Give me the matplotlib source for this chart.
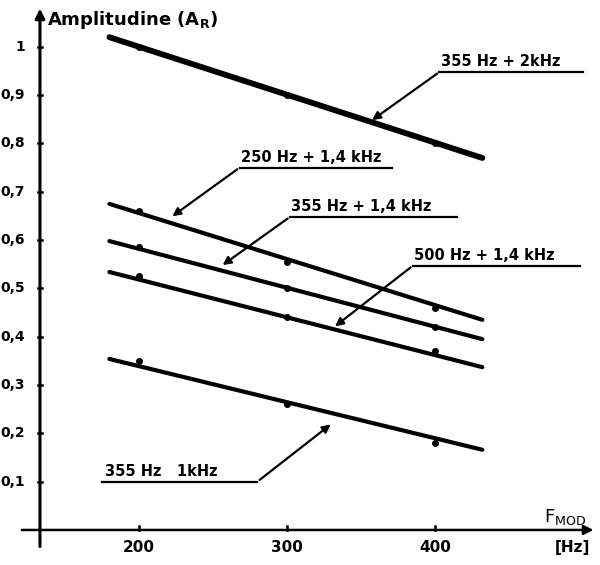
import numpy as np
import matplotlib.pyplot as plt

# Dati
freq_pts = [200, 300, 400]
ends_x = [180, 432]

labels = ['355 Hz + 2kHz', '250 Hz + 1,4 kHz', '355 Hz + 1,4 kHz',
          '500 Hz + 1,4 kHz', '355 Hz   1kHz']
amp_2k = [1.00, 0.90, 0.80]
amp_250 = [0.66, 0.555, 0.46]
amp_355 = [0.585, 0.50, 0.42]
amp_500 = [0.525, 0.44, 0.37]
amp_1k = [0.35, 0.26, 0.18]

ends_2k = [1.02, 0.77]
ends_250 = [0.675, 0.435]
ends_355 = [0.598, 0.395]
ends_500 = [0.534, 0.337]
ends_1k = [0.354, 0.166]

y_ticks = [0.1, 0.2, 0.3, 0.4, 0.5, 0.6, 0.7, 0.8, 0.9, 1]
y_ticklabels = ['0,1', '0,2', '0,3', '0,4', '0,5', '0,6', '0,7', '0,8', '0,9', '1']
x_ticks = [200, 300, 400]

fig = plt.figure(figsize=(6, 5.65), dpi=100)
ax = fig.add_axes([0, 0, 1, 1])
ax.set_xlim(106.1, 511.5)
ax.set_ylim(-0.0725, 1.097)
ax.axis('off')

x0 = 133.1  # posizione asse y

# assi con frecce
ax.annotate('', xy=(x0, 1.085), xytext=(x0, -0.04),
            arrowprops=dict(arrowstyle='-|>', lw=2.2, color='black', mutation_scale=14))
ax.annotate('', xy=(509, 0), xytext=(119, 0),
            arrowprops=dict(arrowstyle='-|>', lw=1.8, color='black', mutation_scale=14))

for y, lab in zip(y_ticks, y_ticklabels):
    ax.plot([x0 - 1.5, x0 + 1.5], [y, y], color='black', lw=1.8)
    ax.text(x0 - 10, y, lab, ha='right', va='center', fontsize=10, fontweight='bold')
for x in x_ticks:
    ax.plot([x, x], [0, 0.008], color='black', lw=1.8)
    ax.text(x, -0.037, str(x), ha='center', va='center', fontsize=11, fontweight='bold')

ax.text(x0 + 5, 1.055, r'Amplitudine (A$_\mathbf{R}$)', ha='left', va='center',
        fontsize=13, fontweight='bold')
ax.text(474, 0.027, r'F$_{\mathrm{MOD}}$', ha='left', va='center', fontsize=13)
ax.text(481, -0.037, '[Hz]', ha='left', va='center', fontsize=11, fontweight='bold')

series = [(amp_2k, ends_2k, 4.2), (amp_250, ends_250, 3.0), (amp_355, ends_355, 3.0),
          (amp_500, ends_500, 3.0), (amp_1k, ends_1k, 3.0)]
for pts, ends, lw in series:
    ax.plot(ends_x, ends, color='black', lw=lw, solid_capstyle='round')
    ax.plot(freq_pts, pts, 'o', color='black', ms=4)

# etichette con frecce
arr = dict(arrowstyle='-|>', lw=1.6, color='black', mutation_scale=12)
# (x linea inizio, x linea fine, y linea, punta freccia)
notes = [
    (403, 500, 0.948, (356, 0.845)),
    (268, 371, 0.750, (221, 0.646)),
    (302, 415, 0.648, (255, 0.545)),
    (385, 498, 0.547, (331, 0.418)),
]
for (xa, xb, yl, tip), lab in zip(notes, labels[:4]):
    ax.plot([xa, xb], [yl, yl], color='black', lw=1.6)
    ax.annotate('', xy=tip, xytext=(xa, yl), arrowprops=arr)
    ax.text(xa + 1, yl + 0.006, lab, ha='left', va='bottom', fontsize=10.5, fontweight='bold')

ax.plot([175, 280], [0.1, 0.1], color='black', lw=1.6)
ax.annotate('', xy=(331, 0.222), xytext=(280, 0.1), arrowprops=arr)
ax.text(177, 0.106, labels[4], ha='left', va='bottom', fontsize=10.5, fontweight='bold')

fig.savefig('out.png', dpi=100)
